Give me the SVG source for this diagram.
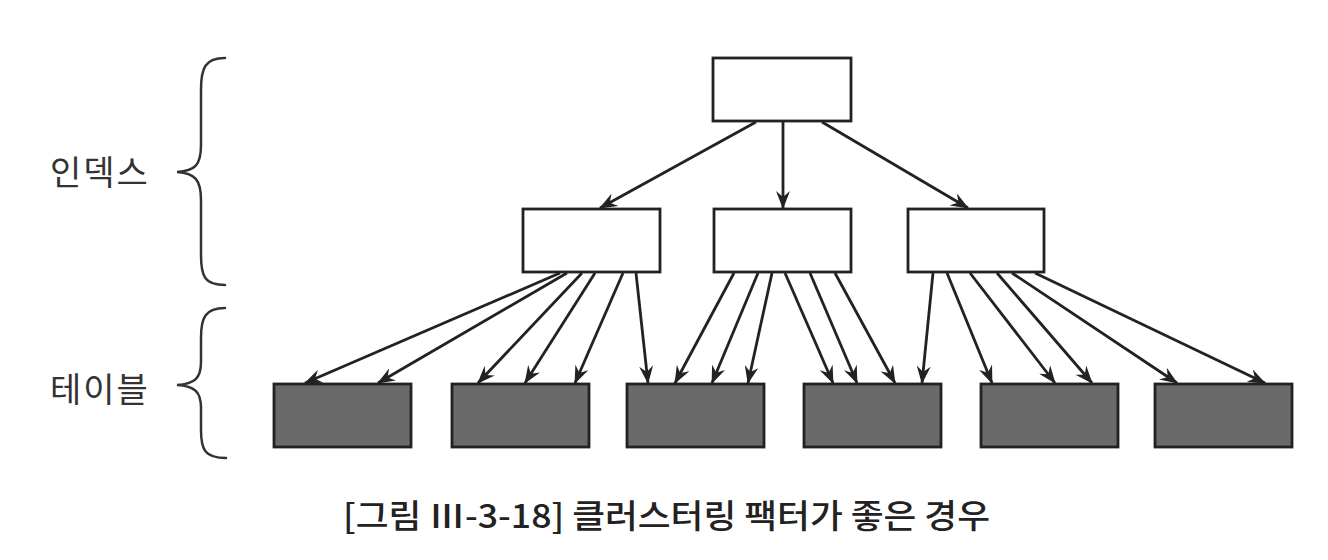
<svg xmlns="http://www.w3.org/2000/svg" width="1328" height="560" viewBox="0 0 1328 560">
<style>
.idx{fill:#fff;stroke:#222;stroke-width:2.8}
.tbl{fill:#6a6a6a;stroke:#222;stroke-width:2.8}
.con line{stroke:#222;stroke-width:2.8;marker-end:url(#ah)}
.brace{fill:none;stroke:#333;stroke-width:2.5;stroke-linecap:round}
.lbl{font-family:"Noto Sans CJK KR","Noto Sans",sans-serif;font-size:34px;fill:#333;letter-spacing:2px}
.cap{font-family:"Noto Sans CJK KR","Noto Sans",sans-serif;font-size:33px;font-weight:500;fill:#222}
</style>
<defs>
<marker id="ah" viewBox="0 0 18 14" refX="17" refY="7" markerWidth="18" markerHeight="14" orient="auto" markerUnits="userSpaceOnUse">
<path d="M0,0 L18,7 L0,14 L6,7 Z" fill="#222"/>
</marker>
</defs>
<rect width="1328" height="560" fill="#fff"/>

<g id="labels">
<path class="brace" d="M225,58 C205,58 201,68 201,90 L201,145 C201,165 195,171 177,172 C195,173 201,180 201,200 L201,255 C201,277 205,285 225,285"/>
<text class="lbl" x="50" y="185">인덱스</text>
<path class="brace" d="M225,308 C205,308 201,318 201,338 L201,362 C201,378 195,384 177,385 C195,386 201,392 201,408 L201,430 C201,450 205,458 226,458"/>
<text class="lbl" x="50" y="402">테이블</text>
</g>

<g id="root"><rect class="idx" x="713" y="58" width="138" height="63"/></g>
<g id="index1"><rect class="idx" x="523" y="209" width="137" height="63"/></g>
<g id="index2"><rect class="idx" x="714" y="209" width="137" height="63"/></g>
<g id="index3"><rect class="idx" x="908" y="209" width="136" height="63"/></g>

<g id="table1"><rect class="tbl" x="274" y="384" width="137" height="63"/></g>
<g id="table2"><rect class="tbl" x="452" y="384" width="137" height="63"/></g>
<g id="table3"><rect class="tbl" x="627" y="384" width="137" height="63"/></g>
<g id="table4"><rect class="tbl" x="804" y="384" width="137" height="63"/></g>
<g id="table5"><rect class="tbl" x="981" y="384" width="137" height="63"/></g>
<g id="table6"><rect class="tbl" x="1155" y="384" width="137" height="63"/></g>

<g class="con" id="connectors">
<line x1="756" y1="122" x2="600" y2="208"/>
<line x1="783" y1="122" x2="783" y2="208"/>
<line x1="822" y1="122" x2="968" y2="208"/>

<line x1="560" y1="273" x2="305" y2="383"/>
<line x1="567" y1="273" x2="378" y2="383"/>
<line x1="582" y1="273" x2="478" y2="383"/>
<line x1="595" y1="273" x2="525" y2="383"/>
<line x1="623" y1="273" x2="575" y2="383"/>
<line x1="636" y1="273" x2="648" y2="383"/>

<line x1="734" y1="273" x2="675" y2="383"/>
<line x1="758" y1="273" x2="712" y2="383"/>
<line x1="772" y1="273" x2="748" y2="383"/>
<line x1="785" y1="273" x2="833" y2="383"/>
<line x1="810" y1="273" x2="857" y2="383"/>
<line x1="835" y1="273" x2="895" y2="383"/>

<line x1="933" y1="273" x2="922" y2="383"/>
<line x1="947" y1="273" x2="992" y2="383"/>
<line x1="970" y1="273" x2="1055" y2="383"/>
<line x1="997" y1="273" x2="1092" y2="383"/>
<line x1="1012" y1="273" x2="1177" y2="383"/>
<line x1="1035" y1="273" x2="1265" y2="383"/>
</g>

<text class="cap" x="343" y="528" textLength="647" lengthAdjust="spacingAndGlyphs">[그림 Ⅲ-3-18] 클러스터링 팩터가 좋은 경우</text>
</svg>
